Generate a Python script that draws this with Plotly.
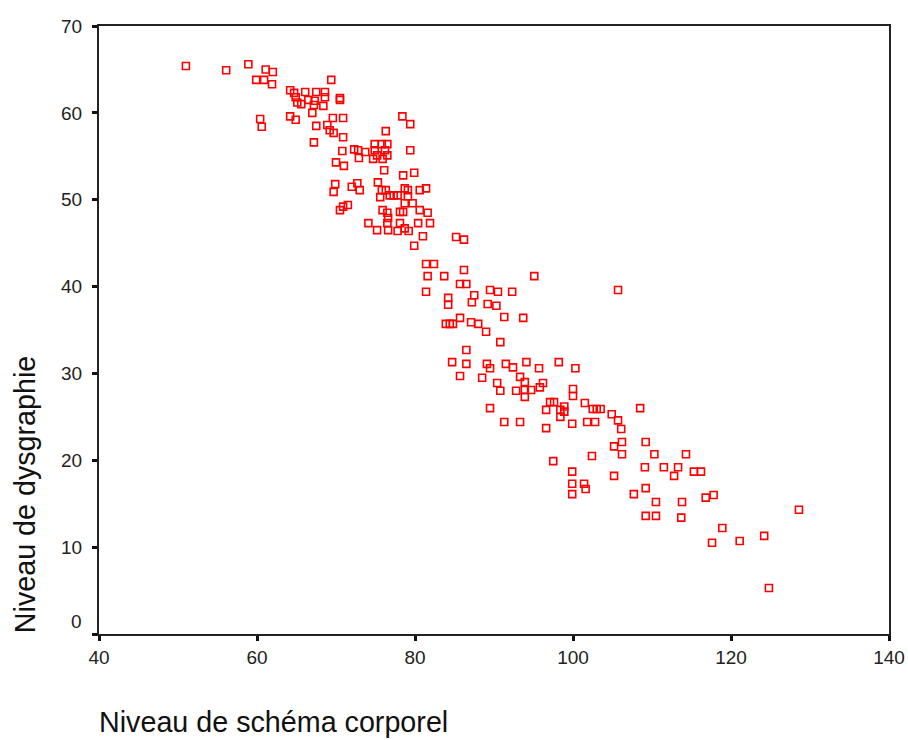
import plotly.graph_objects as go

# Niveau de schéma corporel (x) and Niveau de dysgraphie (y)
schema_corporel = [
    51.0, 56.1, 58.9, 61.1, 62.0, 59.9, 60.9, 61.9, 69.4, 64.2,
    64.7, 64.9, 66.1, 67.5, 68.6, 68.6, 70.5, 65.1, 65.6, 66.5,
    67.3, 67.2, 68.4, 67.0, 60.4, 60.6, 64.2, 64.9, 67.5, 69.6,
    70.9, 68.9, 69.2, 69.7, 70.9, 67.2, 70.8, 72.3, 70.0, 71.0,
    69.9, 69.7, 72.0, 72.7, 70.5, 78.4, 79.4, 76.3, 74.9, 75.8,
    76.5, 74.9, 76.2, 75.2, 76.5, 74.7, 75.9, 73.7, 72.8, 79.4,
    72.9, 76.1, 78.5, 79.9, 73.0, 75.3, 75.8, 76.3, 76.8, 77.3,
    77.8, 78.7, 79.1, 75.6, 79.1, 80.6, 81.4, 78.7, 79.7, 70.5,
    71.5, 70.9, 75.9, 76.5, 76.6, 78.1, 78.5, 80.6, 81.6, 74.1,
    75.2, 76.5, 76.6, 78.1, 77.8, 78.7, 79.2, 80.4, 81.9, 81.0,
    79.9, 85.2, 86.2, 81.4, 82.4, 81.6, 83.7, 86.2, 95.1, 85.7,
    86.5, 81.4, 84.2, 84.2, 87.5, 87.2, 89.5, 90.5, 92.3, 89.2,
    90.3, 91.3, 93.7, 85.7, 83.9, 84.4, 84.8, 87.1, 88.0, 89.0,
    90.8, 86.5, 84.7, 86.5, 85.7, 89.1, 89.5, 88.5, 91.5, 92.4,
    94.1, 95.7, 98.2, 100.3, 90.4, 90.8, 93.3, 93.9, 92.8, 93.9,
    94.7, 95.8, 96.2, 93.9, 100.0, 100.0, 89.5, 91.3, 93.3, 96.6,
    97.1, 97.6, 96.6, 98.4, 98.9, 98.9, 98.4, 101.5, 102.5, 103.0,
    103.5, 101.8, 102.8, 104.9, 105.7, 106.1, 108.5, 105.2, 106.2, 106.2,
    109.2, 110.3, 109.1, 97.5, 102.4, 105.2, 99.9, 99.9, 99.9, 101.4,
    101.6, 107.7, 109.2, 99.9, 114.3, 111.5, 113.3, 112.8, 115.3, 116.2,
    110.5, 113.8, 109.2, 110.5, 113.7, 116.8, 117.8, 118.9, 117.6, 121.1,
    124.2, 128.6, 124.8, 105.7,
]
dysgraphie = [
    65.4, 64.9, 65.6, 65.0, 64.7, 63.8, 63.8, 63.3, 63.8, 62.6,
    62.3, 61.8, 62.4, 62.4, 62.4, 61.8, 61.7, 61.2, 61.0, 61.5,
    61.4, 60.9, 60.8, 60.0, 59.3, 58.4, 59.6, 59.2, 58.5, 59.4,
    59.4, 58.6, 58.0, 57.7, 57.2, 56.6, 55.6, 55.8, 54.3, 53.9,
    51.8, 50.9, 51.5, 51.9, 61.5, 59.6, 58.7, 57.9, 56.4, 56.4,
    56.4, 55.7, 55.7, 55.1, 55.1, 54.7, 54.7, 55.5, 55.7, 55.7,
    54.8, 53.4, 52.8, 53.1, 51.1, 52.0, 51.1, 51.1, 50.5, 50.5,
    50.5, 51.3, 51.1, 50.3, 50.4, 51.1, 51.3, 49.6, 49.6, 48.8,
    49.4, 49.2, 48.8, 48.5, 47.9, 48.6, 48.6, 48.8, 48.5, 47.3,
    46.5, 47.3, 46.5, 47.3, 46.4, 46.7, 46.4, 47.3, 47.3, 45.8,
    44.7, 45.7, 45.4, 42.6, 42.6, 41.2, 41.2, 41.9, 41.2, 40.3,
    40.3, 39.4, 38.7, 37.9, 39.0, 38.2, 39.6, 39.4, 39.4, 38.0,
    37.8, 36.5, 36.4, 36.4, 35.7, 35.7, 35.7, 35.9, 35.7, 34.8,
    33.6, 32.7, 31.3, 31.1, 29.7, 31.1, 30.6, 29.5, 31.1, 30.7,
    31.3, 30.6, 31.3, 30.6, 28.9, 28.0, 29.6, 29.0, 28.0, 28.1,
    28.1, 28.4, 28.9, 27.3, 28.2, 27.4, 26.0, 24.4, 24.4, 23.7,
    26.7, 26.7, 25.8, 25.8, 26.2, 25.6, 25.0, 26.6, 25.9, 25.9,
    25.9, 24.4, 24.4, 25.3, 24.6, 23.6, 26.0, 21.6, 22.1, 20.7,
    22.1, 20.7, 19.2, 19.9, 20.5, 18.2, 18.7, 17.3, 16.1, 17.3,
    16.7, 16.1, 16.8, 24.2, 20.7, 19.2, 19.2, 18.2, 18.7, 18.7,
    15.2, 15.2, 13.6, 13.6, 13.4, 15.7, 16.0, 12.2, 10.5, 10.7,
    11.3, 14.3, 5.3, 39.6,
]

x_ticks = [40, 60, 80, 100, 120, 140]
y_ticks = [0, 10, 20, 30, 40, 50, 60, 70]
y_tick_text = ["", "10", "20", "30", "40", "50", "60", "70"]

fig = go.Figure()
fig.add_trace(go.Scatter(
    x=schema_corporel, y=dysgraphie, mode="markers",
    marker=dict(symbol="square-open", size=7, color="#ff0000",
                line=dict(width=1.6, color="#ff0000")),
    showlegend=False, hoverinfo="x+y",
))

tick_font = dict(family="Arial, Liberation Sans, sans-serif", size=19, color="#222222")
title_font = dict(family="Arial, Liberation Sans, sans-serif", size=28.7, color="#111111")
fig.update_layout(
    width=908, height=740,
    margin=dict(l=99, r=19, t=26, b=106, autoexpand=False),
    paper_bgcolor="white", plot_bgcolor="white",
    xaxis=dict(range=[40, 140], tickvals=x_ticks, showgrid=False, zeroline=False,
               showline=True, mirror=True, linecolor="#222222", linewidth=2,
               ticks="outside", ticklen=5, tickwidth=3, tickcolor="#111111",
               tickfont=tick_font, ticklabeloverflow="allow", automargin=False),
    yaxis=dict(range=[0, 70], tickvals=y_ticks, ticktext=y_tick_text,
               showgrid=False, zeroline=False,
               showline=True, mirror=True, linecolor="#222222", linewidth=2,
               ticks="outside", ticklen=5, tickwidth=3, tickcolor="#111111",
               tickfont=tick_font, ticklabelstandoff=6, ticklabeloverflow="allow",
               automargin=False),
    annotations=[
        dict(text="0", xref="paper", yref="y", x=0, y=0, xanchor="right",
             yanchor="middle", xshift=-15, yshift=13, showarrow=False,
             font=tick_font),
        dict(text="Niveau de schéma corporel", xref="paper", yref="paper",
             x=-0.0025, y=-0.1447, xanchor="left", yanchor="middle",
             showarrow=False, font=title_font),
        dict(text="Niveau de dysgraphie", xref="paper", yref="paper",
             x=-0.0937, y=-0.002, xanchor="center", yanchor="bottom", textangle=-90,
             showarrow=False, font=title_font),
    ],
)

fig.write_html(
    "out.html",
    config={"displayModeBar": False},
    post_script="document.body.style.margin='0';document.body.style.overflow='hidden';",
)
